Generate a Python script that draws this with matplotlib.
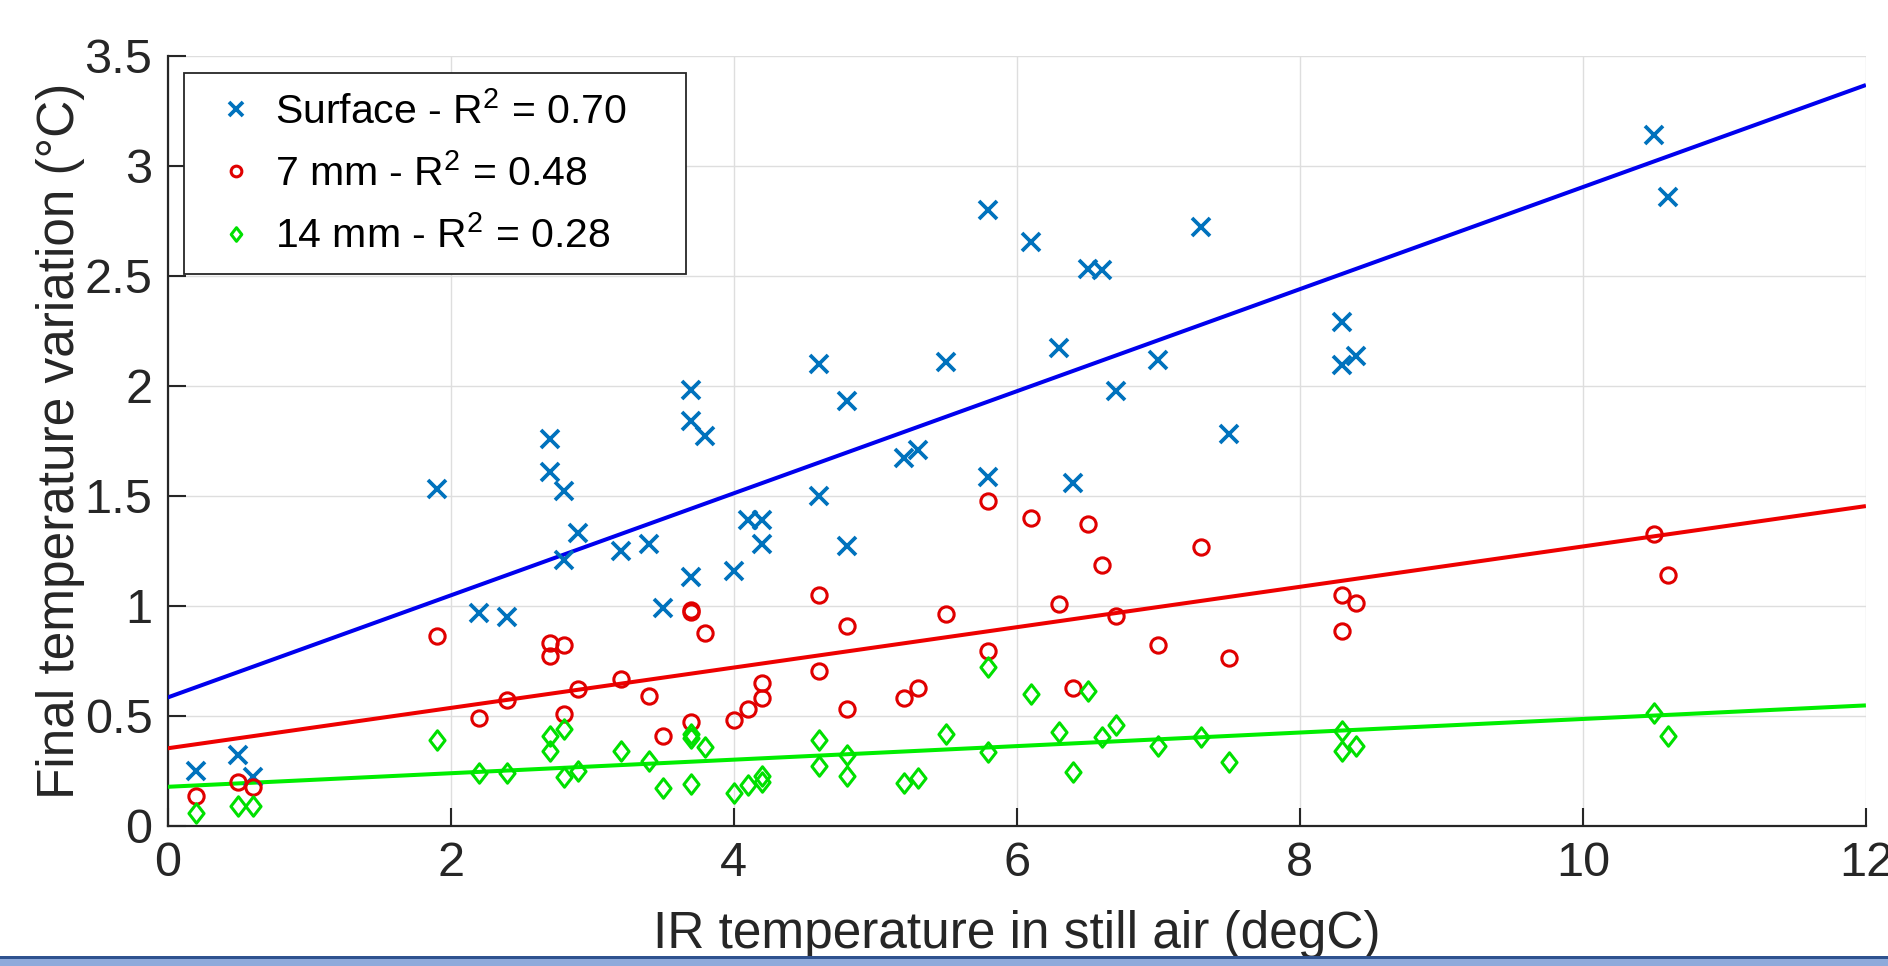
import numpy as np
import matplotlib
matplotlib.use("Agg")
import matplotlib.pyplot as plt
from matplotlib.patches import Rectangle
from matplotlib.path import Path

# ---------------- data ----------------
ir_temp = [0.2, 0.5, 0.6, 1.9, 2.2, 2.4, 2.7, 2.7, 2.8, 2.8, 2.9, 3.2, 3.4, 3.5,
           3.7, 3.7, 3.7, 3.8, 4.0, 4.1, 4.2, 4.2, 4.6, 4.6, 4.8, 4.8, 5.2, 5.3,
           5.5, 5.8, 5.8, 6.1, 6.3, 6.4, 6.5, 6.6, 6.7, 7.0, 7.3, 7.5, 8.3, 8.3,
           8.4, 10.5, 10.6]
surface = [0.25, 0.32, 0.22, 1.53, 0.965, 0.95, 1.76, 1.61, 1.52, 1.21, 1.33, 1.25,
           1.28, 0.99, 1.98, 1.84, 1.13, 1.77, 1.16, 1.39, 1.39, 1.28, 2.10, 1.50,
           1.93, 1.27, 1.67, 1.71, 2.11, 2.80, 1.585, 2.655, 2.17, 1.556, 2.53,
           2.524, 1.978, 2.118, 2.721, 1.781, 2.289, 2.092, 2.134, 3.14, 2.856]
mm7 = [0.135, 0.20, 0.177, 0.862, 0.49, 0.571, 0.83, 0.77, 0.82, 0.51, 0.62, 0.665,
       0.59, 0.41, 0.98, 0.97, 0.47, 0.875, 0.48, 0.53, 0.65, 0.58, 1.05, 0.705,
       0.91, 0.53, 0.58, 0.627, 0.964, 1.476, 0.793, 1.40, 1.008, 0.627, 1.371,
       1.185, 0.954, 0.823, 1.269, 0.763, 1.050, 0.884, 1.014, 1.326, 1.14]
mm14 = [0.056, 0.089, 0.089, 0.389, 0.241, 0.241, 0.41, 0.34, 0.44, 0.22, 0.25,
        0.34, 0.295, 0.17, 0.415, 0.40, 0.19, 0.36, 0.15, 0.185, 0.225, 0.20,
        0.39, 0.27, 0.32, 0.227, 0.193, 0.216, 0.415, 0.723, 0.335, 0.60, 0.428,
        0.245, 0.612, 0.402, 0.458, 0.361, 0.402, 0.291, 0.432, 0.341, 0.361,
        0.512, 0.407]

series_labels = ["Surface - R$^2$ = 0.70", "7 mm - R$^2$ = 0.48", "14 mm - R$^2$ = 0.28"]
# linear fits, value at x = 0 and at x = 12
fit_x = [0, 12]
fit_at_0 = [0.583, 0.352, 0.177]
fit_at_12 = [3.367, 1.453, 0.547]

x_ticks = [0, 2, 4, 6, 8, 10, 12]
x_tick_labels = ["0", "2", "4", "6", "8", "10", "12"]
y_ticks = [0, 0.5, 1, 1.5, 2, 2.5, 3, 3.5]
y_tick_labels = ["0", "0.5", "1", "1.5", "2", "2.5", "3", "3.5"]

# ---------------- style ----------------
plt.rcParams['font.family'] = ['Liberation Sans', 'DejaVu Sans']
plt.rcParams['mathtext.fontset'] = 'custom'
plt.rcParams['mathtext.rm'] = 'Liberation Sans'
plt.rcParams['mathtext.it'] = 'Liberation Sans'
plt.rcParams['mathtext.default'] = 'regular'
DARK = '#262626'

marker_colors = ['#0072BD', '#E00000', '#00E000']
line_colors = ['#0000EE', '#EE0000', '#00EE00']
diamond = Path([(0, 1), (0.78, 0), (0, -1), (-0.78, 0), (0, 1)],
               [Path.MOVETO, Path.LINETO, Path.LINETO, Path.LINETO, Path.CLOSEPOLY])

fig = plt.figure(figsize=(18.88, 9.66), dpi=100)
ax = fig.add_axes([0.0888, 0.1452, 0.8995, 0.7971])

series = [surface, mm7, mm14]
marker_kw = [
    dict(marker='x', markersize=13.5, markeredgewidth=2.7, markerfacecolor='none'),
    dict(marker='o', markersize=11, markeredgewidth=2.2, markerfacecolor='none'),
    dict(marker=diamond, markersize=14, markeredgewidth=2.2, markerfacecolor='none'),
]

handles = []
for ys, lab, mc, kw in zip(series, series_labels, marker_colors, marker_kw):
    h, = ax.plot(ir_temp, ys, linestyle='none', color=mc, markeredgecolor=mc,
                 label=lab, zorder=4, **kw)
    handles.append(h)

for a0, a12, lc in zip(fit_at_0, fit_at_12, line_colors):
    ax.plot(fit_x, [a0, a12], color=lc, linewidth=2.9, zorder=3,
            solid_capstyle='butt')

ax.set_xlim(0, 12)
ax.set_ylim(0, 3.5)
ax.set_xticks(x_ticks)
ax.set_xticklabels(x_tick_labels)
ax.set_yticks(y_ticks)
ax.set_yticklabels(y_tick_labels)

ax.grid(True, color='#DEDEDE', linewidth=1.0)
ax.set_axisbelow(True)
for s in ['top', 'right']:
    ax.spines[s].set_visible(False)
for s in ['left', 'bottom']:
    ax.spines[s].set_color(DARK)
    ax.spines[s].set_linewidth(1.6)

ax.tick_params(axis='both', direction='in', length=13, width=1.5, colors=DARK,
               labelsize=35, top=False, right=False)
ax.tick_params(axis='x', pad=11)
ax.tick_params(axis='y', pad=11)

ax.set_xlabel("IR temperature in still air (degC)", fontsize=37, color=DARK,
              va='baseline')
ax.xaxis.set_label_coords(0.5, -0.1585)
ax.set_ylabel("Final temperature variation (°C)", fontsize=37, color=DARK,
              va='baseline')
ax.yaxis.set_label_coords(-0.0552, 0.5)

leg = ax.legend(handles=handles, loc='upper left',
                bbox_to_anchor=(0.0096, 0.7230, 0.2956, 0.2545), mode='expand',
                borderaxespad=0, fontsize=29.5, frameon=True, fancybox=False,
                edgecolor=DARK, framealpha=1, handlelength=1.63,
                handletextpad=0.15, borderpad=0.45, labelspacing=0.55,
                markerscale=0.7)
leg.get_frame().set_linewidth(1.3)
for t in leg.get_texts():
    t.set_color('black')

# bottom band of the slide
fig.add_artist(Rectangle((0, 0), 1, 9.0 / 966, transform=fig.transFigure,
                         facecolor='#8EAADB', edgecolor='none', zorder=10))
fig.add_artist(Rectangle((0, 7.0 / 966), 1, 2.6 / 966, transform=fig.transFigure,
                         facecolor='#2F528F', edgecolor='none', zorder=11))

fig.savefig('out.png', dpi=100)
